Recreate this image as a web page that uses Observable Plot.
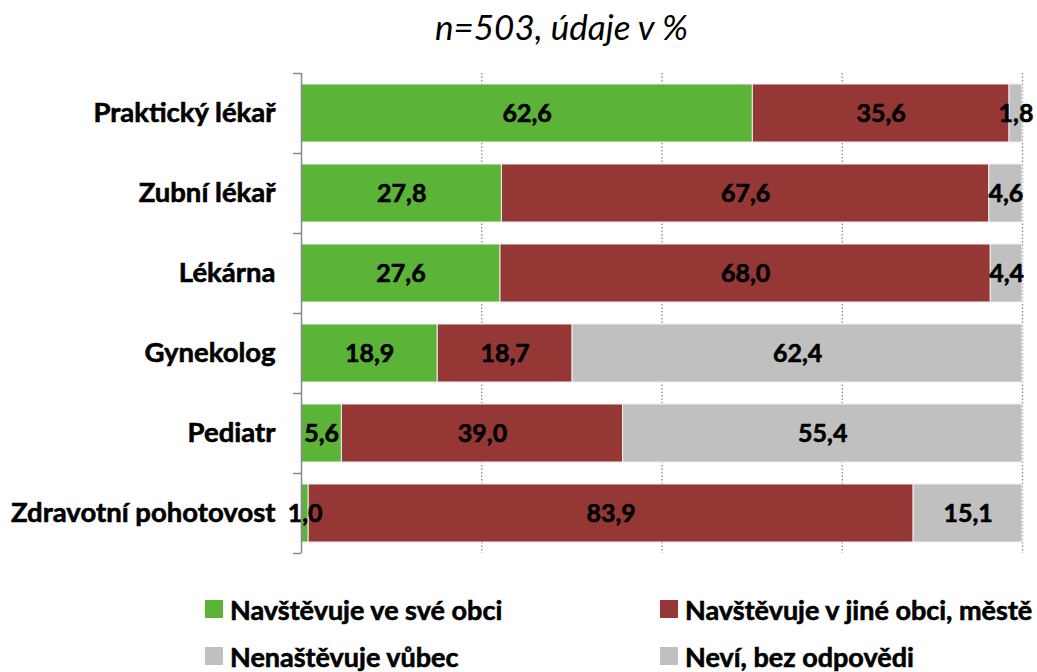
<!DOCTYPE html>
<html>
<head>
<meta charset="utf-8">
<script src="https://cdn.jsdelivr.net/npm/d3@7"></script>
<script src="https://cdn.jsdelivr.net/npm/@observablehq/plot@0.6"></script>
<style>
  body { margin: 0; background: #fff; font-family: Lato, "Open Sans", sans-serif; }
  #wrap { position: relative; width: 1037px; height: 672px; overflow: hidden; }
  #title { position: absolute; left: 0; top: 5px; width: 1037px; padding-left: 86px; box-sizing: border-box; text-align: center; font-style: italic; font-size: 35px; color: #000; }
  #chart { position: absolute; left: 0; top: 55px; }
  .leg { position: absolute; display: flex; align-items: center; font-weight: bold; font-size: 27px; line-height: 1; height: 27px; color: #000; white-space: nowrap; -webkit-text-stroke: 0.6px #000; }
  .sw { width: 18px; height: 18px; margin-right: 7px; }
</style>
</head>
<body>
<div id="wrap">
  <div id="title">n=503, údaje v %</div>
  <div id="chart"></div>
  <div id="legend"></div>
</div>
<script>
const categories = ["Praktický lékař", "Zubní lékař", "Lékárna", "Gynekolog", "Pediatr", "Zdravotní pohotovost"];
const seriesNames = ["Navštěvuje ve své obci", "Navštěvuje v jiné obci, městě", "Nenaštěvuje vůbec", "Neví, bez odpovědi"];
const seriesColors = ["#5bb337", "#953735", "#c0c0c0", "#c0c0c0"];
const veSveObci = [62.6, 27.8, 27.6, 18.9, 5.6, 1.0];
const vJineObci = [35.6, 67.6, 68.0, 18.7, 39.0, 83.9];
const nenavstevuje = [1.8, 4.6, 4.4, 62.4, 55.4, 15.1];
const nevi = [0, 0, 0, 0, 0, 0];
const gridTicks = [25, 50, 75, 100];

const seriesValues = [veSveObci, vJineObci, nenavstevuje, nevi];
const data = [];
categories.forEach((c, i) => {
  seriesValues.forEach((vals, s) => {
    data.push({cat: c, series: seriesNames[s], value: vals[i]});
  });
});
const fmt = v => v.toFixed(1).replace(".", ",");

const chart = Plot.plot({
  width: 1037,
  height: 520,
  marginLeft: 301,
  marginRight: 15,
  marginTop: 18,
  marginBottom: 22,
  style: {fontFamily: "Lato, 'Open Sans', sans-serif", background: "white"},
  x: {domain: [0, 100], axis: null},
  y: {domain: categories, paddingInner: 0.27, paddingOuter: 0.135, align: 0.5, label: null, axis: null},
  color: {domain: seriesNames, range: seriesColors},
  marks: [
    Plot.ruleX(gridTicks, {stroke: "#888", strokeDasharray: "1.5,2", strokeWidth: 1.3}),
    Plot.barX(data.filter(d => d.value > 0), Plot.stackX({
      x: "value", y: "cat", fill: "series", order: seriesNames, stroke: "#f0f0f0", strokeWidth: 1
    })),
    Plot.text(data.filter(d => d.value > 0), Plot.stackX({
      x: "value", y: "cat", z: "series", order: seriesNames, text: d => fmt(d.value),
      fontSize: 25, fontWeight: "bold", fill: "#000", stroke: "#000", strokeWidth: 0.6
    })),
    Plot.ruleX([0], {stroke: "#888", strokeWidth: 1.5}),
    Plot.ruleY(categories, {y: d => d, x1: -1.1, x2: 0, dy: -40, stroke: "#888", strokeWidth: 1.5}),
    Plot.ruleY(categories.slice(-1), {y: d => d, x1: -1.1, x2: 0, dy: 40, stroke: "#888", strokeWidth: 1.5}),
    Plot.text(categories, {y: d => d, x: 0, dx: -26, text: d => d, textAnchor: "end",
      fontSize: 27.5, fontWeight: "bold", fill: "#000", stroke: "#000", strokeWidth: 0.6})
  ]
});
document.getElementById("chart").appendChild(chart);

const legPos = [[205, 609], [660, 609], [205, 656], [660, 656]];
const legend = document.getElementById("legend");
seriesNames.forEach((name, i) => {
  const el = document.createElement("div");
  el.className = "leg";
  el.style.left = legPos[i][0] + "px";
  el.style.top = (legPos[i][1] - 13.5) + "px";
  el.innerHTML = `<div class="sw" style="background:${seriesColors[i]}"></div><span>${name}</span>`;
  legend.appendChild(el);
});
</script>
</body>
</html>
